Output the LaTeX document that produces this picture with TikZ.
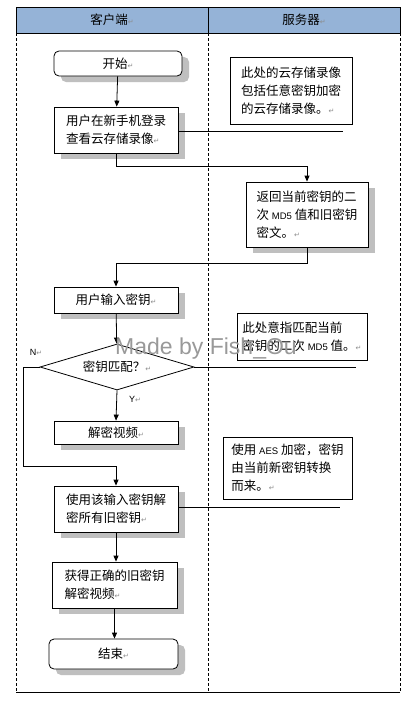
\documentclass[tikz,border=0pt]{standalone}
\usepackage{fontspec}
\setmainfont{Noto Sans CJK SC}
\newfontfamily\latinfont{Liberation Sans}
\newfontfamily\symfont{DejaVu Sans}
\usetikzlibrary{arrows.meta,shapes.geometric,shadows,calc}
\newcommand{\retmark}{{\symfont\fontsize{7}{7}\selectfont\color{black!45}↵}}
\newcommand{\latn}[1]{{\latinfont\fontsize{9.5}{10}\selectfont #1}}
\definecolor{headblue}{RGB}{149,179,215}
\tikzset{
    lane/.style={line width=0.7pt, dash pattern=on 3pt off 2pt},
    frame/.style={line width=0.8pt},
    stepbox/.style={draw, line width=0.8pt, fill=white, align=left, inner sep=0pt,
        font=\fontsize{12.5}{18}\selectfont,
        drop shadow={shadow xshift=7pt, shadow yshift=-6pt, fill=black!25, opacity=1}},
    endbox/.style={stepbox, rounded corners=5pt},
    notebox/.style={draw, line width=0.8pt, fill=white, align=left, inner sep=0pt,
        font=\fontsize{12.5}{18}\selectfont},
    decision/.style={draw, diamond, aspect=3.35, line width=0.8pt, fill=white, inner sep=0pt,
        minimum width=154pt, minimum height=46pt, font=\fontsize{12.5}{18}\selectfont},
    arr/.style={line width=0.8pt, -{Triangle[length=6pt,width=5pt]}},
    link/.style={line width=0.8pt}
}
\begin{document}
\begin{tikzpicture}[x=1pt, y=-1pt]
    \useasboundingbox [fill=white] (0,0) rectangle (417,701);
    % swim lanes
    \draw [frame, fill=headblue] (16,7) rectangle (400,33);
    \draw [frame] (208,7) -- (208,33);
    \draw [lane] (16,33) -- (16,692);
    \draw [lane] (208,33) -- (208,692);
    \draw [lane] (400,33) -- (400,692);
    \draw [frame] (16,692) -- (400,692);
    \node (hclient) at (112,20) [font=\fontsize{12.5}{14}\selectfont] {客户端\retmark};
    \node (hserver) at (304,20) [font=\fontsize{12.5}{14}\selectfont] {服务器\retmark};

    % client side
    \node (start) at (118,63.5) [endbox, minimum width=128pt, minimum height=25pt] {开始\retmark};
    \node (login) at (116,130) [stepbox, minimum width=124pt, minimum height=46pt]
        {用户在新手机登录\\查看云存储录像\retmark};
    \node (input) at (116,300) [stepbox, minimum width=124pt, minimum height=26pt] {用户输入密钥\retmark};
    \node (match) at (117,367) [decision] {密钥匹配？\retmark};
    \node (decrypt) at (116,432.5) [stepbox, minimum width=124pt, minimum height=23pt] {解密视频\retmark};
    \node (decold) at (116,509) [stepbox, minimum width=124pt, minimum height=46pt]
        {使用该输入密钥解\\密所有旧密钥\retmark};
    \node (getkey) at (114.5,585) [stepbox, minimum width=125pt, minimum height=46pt]
        {获得正确的旧密钥\\解密视频\retmark};
    \node (end) at (113.5,654) [endbox, minimum width=129pt, minimum height=30pt] {结束\retmark};

    % server side
    \node (reply) at (307,214.5) [stepbox, minimum width=122pt, minimum height=65pt]
        {返回当前密钥的二\\次 \latn{MD5} 值和旧密钥\\密文。\retmark};
    \node (note1) at (291,90.5) [notebox, minimum width=122pt, minimum height=67pt]
        {此处的云存储录像\\包括任意密钥加密\\的云存储录像。\retmark};
    \node (note2) at (302,336.5) [notebox, minimum width=130pt, minimum height=47pt]
        {此处意指匹配当前\\密钥的二次 \latn{MD5} 值。\retmark};
    \node (note3) at (287.5,468) [notebox, minimum width=129pt, minimum height=62pt]
        {使用 \latn{AES} 加密，密钥\\由当前新密钥转换\\而来。\retmark};

    \coordinate (toserver) at (307,166);
    \coordinate (toclient) at (116,263);
    \coordinate (nbend) at (23,466);
    \coordinate (tip1) at (343,131);
    \coordinate (tip2) at (356,367);
    \coordinate (tip3) at (340,507);

    \draw [arr] (start) -- (login);
    \draw [arr] (login.south) |- (toserver) -- (reply.north);
    \draw [arr] (reply.south) |- (toclient) -- (input.north);
    \draw [arr] (input) -- (match);
    \draw [arr] (match.south) -- (decrypt.north);
    \draw [arr] (match.west) -| (nbend) -- (nbend -| decold.north) -- (decold.north);
    \draw [arr] (decold.south) -- (decold.south |- getkey.north);
    \draw [arr] (getkey.south) -- (getkey.south |- end.north);
    \draw [link] (login.east |- tip1) -- (tip1);
    \draw [link] (match.east) -- (tip2);
    \draw [link] (decold.east |- tip3) -- (tip3);

    \node (nlabel) at (36,352) [font=\latinfont\fontsize{9}{10}\selectfont] {N\retmark};
    \node (ylabel) at (135,399) [font=\latinfont\fontsize{9}{10}\selectfont] {Y\retmark};
    \node (mark) at (206,349) [font=\latinfont\fontsize{23}{24}\selectfont, text=black!40] {Made by Fish\_Ou};
\end{tikzpicture}
\end{document}
